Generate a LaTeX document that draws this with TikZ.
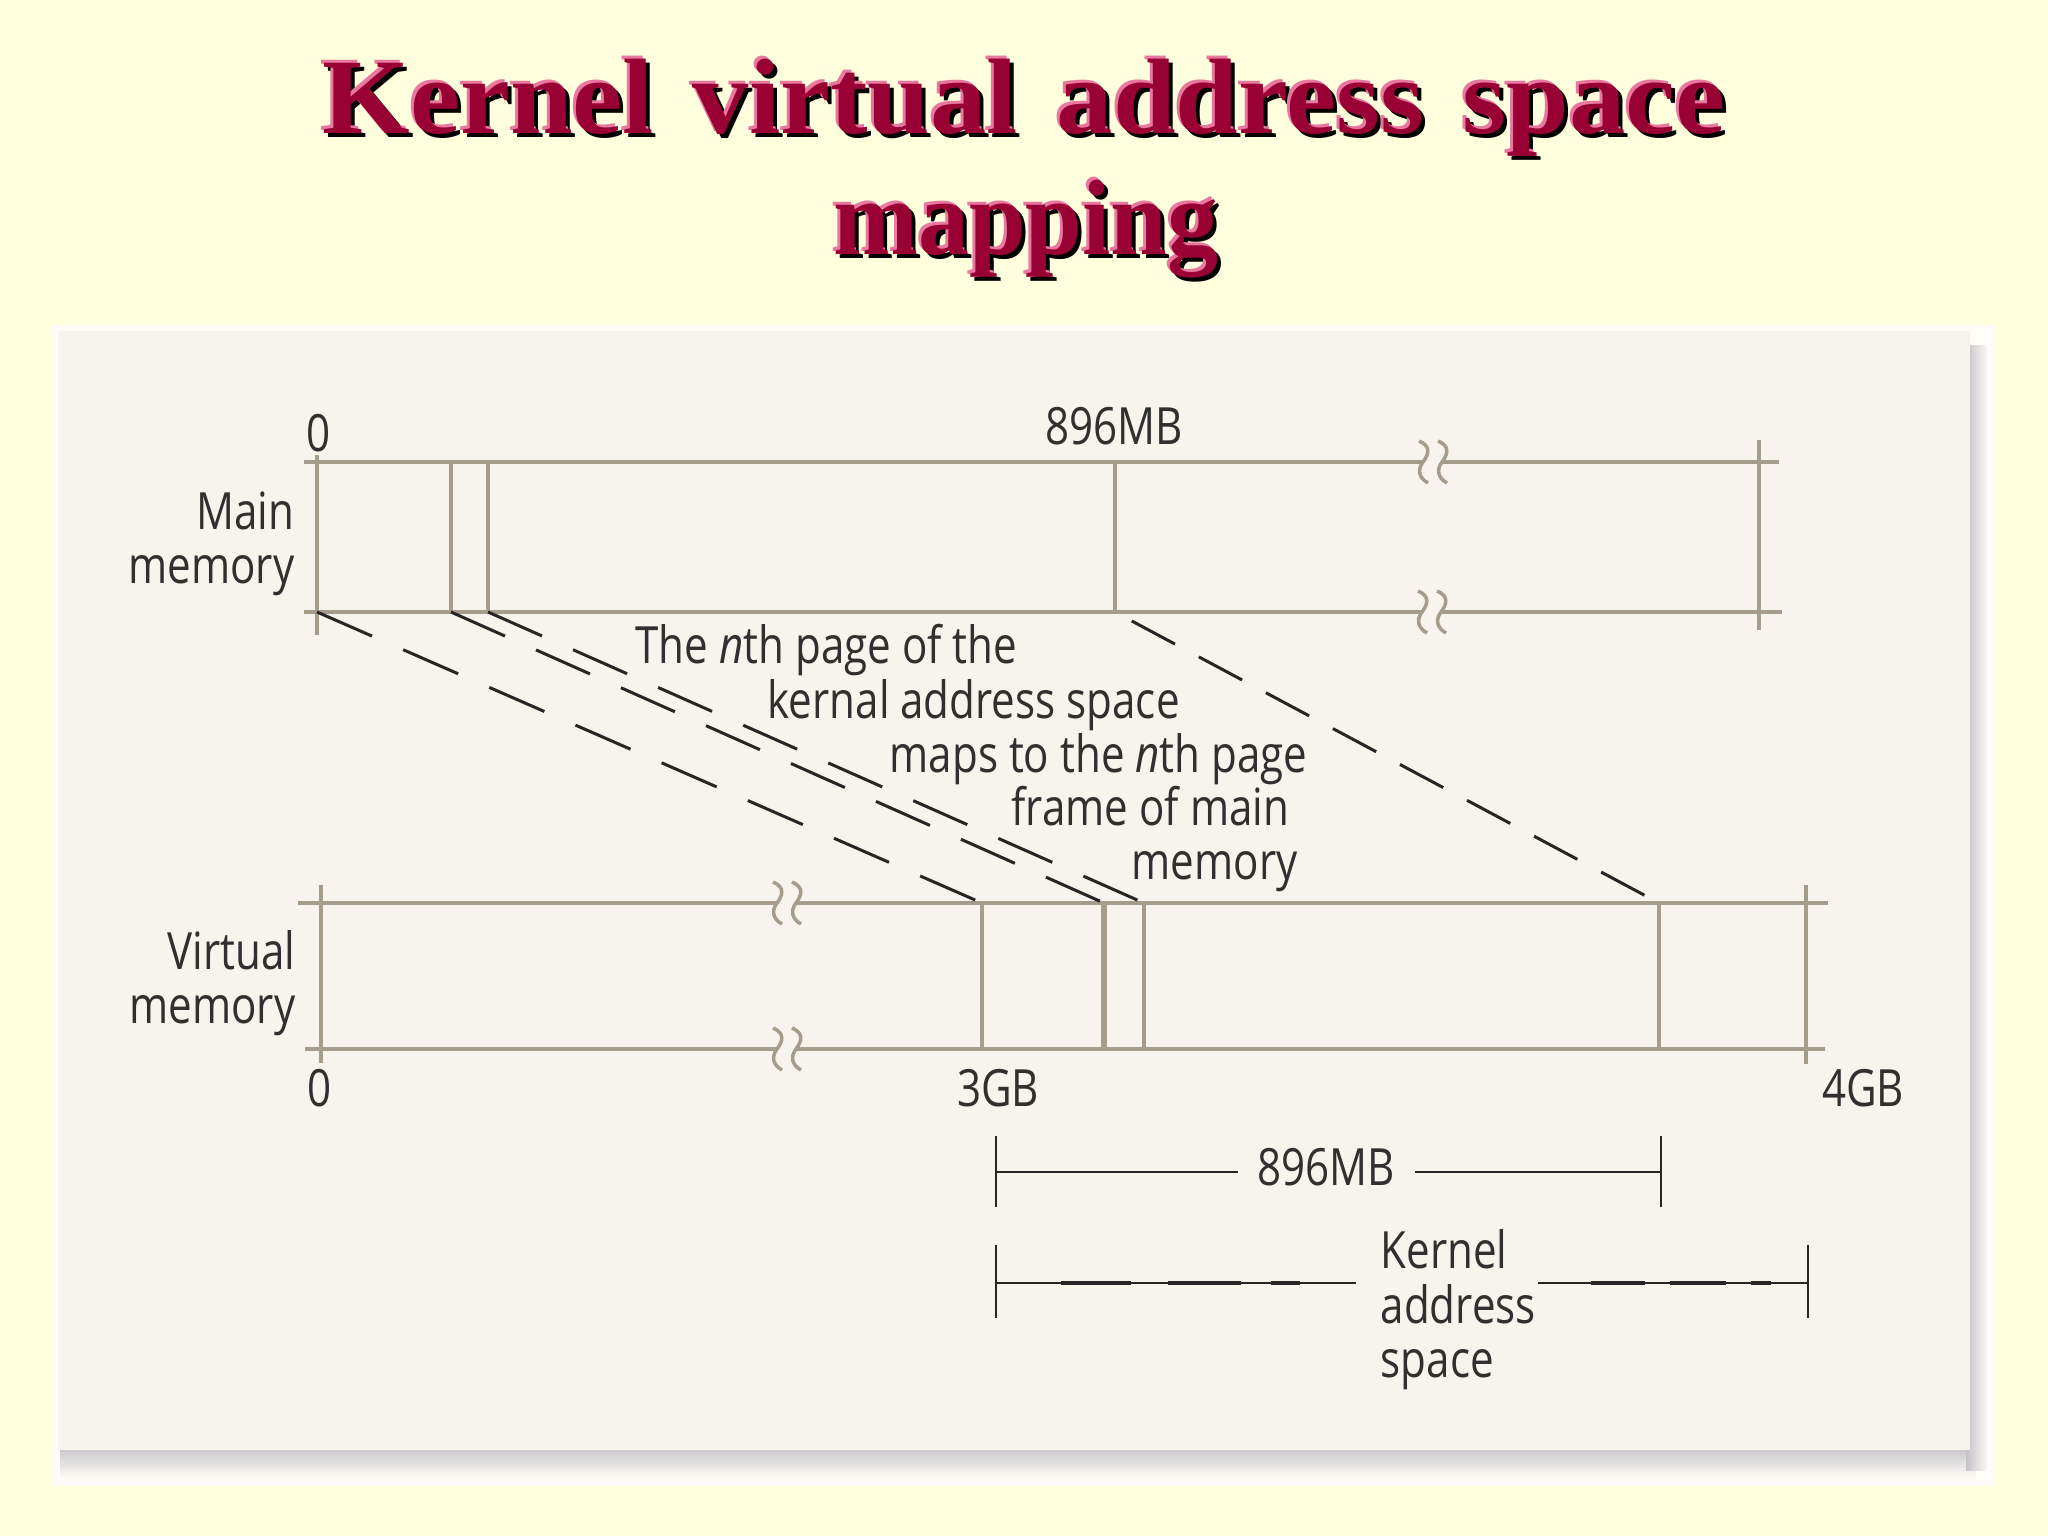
\documentclass[tikz,border=0pt]{standalone}
\usepackage{fontspec}
\newfontfamily\labfont{Open Sans}[FakeStretch=0.82]
\newfontfamily\ttlfont{Liberation Serif}[FakeStretch=1.05]
\newfontfamily\ttlfontb{Liberation Serif}[FakeStretch=0.95]
\definecolor{bgyellow}{RGB}{255,255,221}
\definecolor{paper}{RGB}{247,243,237}
\definecolor{framewhite}{RGB}{253,252,246}
\definecolor{boxc}{RGB}{166,156,140}
\definecolor{txt}{RGB}{48,48,48}
\definecolor{ttlred}{RGB}{153,0,51}
\definecolor{ttlpink}{RGB}{232,120,160}
\definecolor{shadowgray}{RGB}{196,194,200}
\tikzset{
  boxline/.style={draw=boxc, line width=0.035cm},
  thickdiv/.style={draw=boxc, line width=0.06cm},
  mapline/.style={draw=black!85, line width=0.03cm, dash pattern=on 0.6cm off 0.34cm},
  dimline/.style={draw=black!85, line width=0.022cm},
  dimthick/.style={draw=black!85, line width=0.04cm},
  lab/.style={font=\labfont\fontsize{14.6}{17}\selectfont, text=txt, inner sep=0pt},
  ttl/.style={font=\ttlfont\bfseries\fontsize{30.5}{34}\selectfont, inner sep=0pt, anchor=base},
  ttlb/.style={font=\ttlfontb\bfseries\fontsize{30.5}{34}\selectfont, inner sep=0pt, anchor=base},
}
\newcommand\wsp{\hspace{11pt}}
\newcommand\brkmark[2]{\draw[boxline] (#1-4,#2-21) .. controls (#1+8,#2-16) and (#1+6,#2-8) .. (#1,#2) .. controls (#1-6,#2+8) and (#1-4,#2+16) .. (#1+5,#2+21);}
\begin{document}
\begin{tikzpicture}[x=0.01cm,y=-0.01cm]
\useasboundingbox (0,0) rectangle (2048,1536);
% background and panel
\fill[bgyellow] (0,0) rectangle (2048,1536);
\fill[framewhite] (52,325) rectangle (1996,1486);
\shade[top color=shadowgray, bottom color=framewhite] (60,1446) rectangle (1976,1478);
\shade[left color=shadowgray, right color=framewhite] (1966,345) rectangle (1988,1470);
\fill[paper] (58,331) rectangle (1970,1450);
% title
\node[ttl, text=black] (t1s) at (1028,137) {Kernel\wsp virtual\wsp address\wsp space};
\node[ttl, text=ttlpink] (t1p) at (1021,130) {Kernel\wsp virtual\wsp address\wsp space};
\node[ttl, text=ttlred] (t1) at (1024,133) {Kernel\wsp virtual\wsp address\wsp space};
\node[ttlb, text=black] (t2s) at (1030,258) {mapping};
\node[ttlb, text=ttlpink] (t2p) at (1023,251) {mapping};
\node[ttlb, text=ttlred] (t2) at (1026,254) {mapping};
% main memory box
\coordinate (m0) at (317,612);
\coordinate (m1) at (451,612);
\coordinate (m2) at (488,612);
\coordinate (m3) at (1115,612);
\draw[boxline] (317,455) -- (317,635);
\draw[boxline] (1759,440) -- (1759,630);
\draw[boxline] (304,462) -- (1423,462) (1442,462) -- (1779,462);
\draw[boxline] (304,612) -- (1422,612) (1441,612) -- (1782,612);
\brkmark{1423}{462}
\brkmark{1442}{462}
\brkmark{1422}{612}
\brkmark{1441}{612}
\draw[boxline] (451,462) -- (m1);
\draw[boxline] (488,462) -- (m2);
\draw[boxline] (1115,462) -- (m3);
% virtual memory box
\coordinate (v0) at (982,903);
\coordinate (v1) at (1104,903);
\coordinate (v2) at (1144,903);
\coordinate (v3) at (1659,903);
\draw[boxline] (321,885) -- (321,1063);
\draw[boxline] (1806,885) -- (1806,1064);
\draw[boxline] (298,903) -- (777,903) (796,903) -- (1828,903);
\draw[boxline] (305,1049) -- (777,1049) (796,1049) -- (1825,1049);
\brkmark{777}{903}
\brkmark{796}{903}
\brkmark{777}{1049}
\brkmark{796}{1049}
\draw[boxline] (v0) -- (982,1049);
\draw[thickdiv] (v1) -- (1104,1049);
\draw[boxline] (v2) -- (1144,1049);
\draw[boxline] (v3) -- (1659,1049);
% mapping lines
\draw[mapline] (m0) -- (v0);
\draw[mapline, dash pattern=on 0.59cm off 0.34cm] (m1) -- (v1);
\draw[mapline, dash pattern=on 0.59cm off 0.34cm] (m2) -- (v2);
\draw[mapline, dash pattern=on 0.49cm off 0.27cm, dash phase=0.57cm] (m3) -- (v3);
% labels
\node[lab, anchor=base] (lm0) at (319,451) {0};
\node[lab, anchor=base] (lm896) at (1114,444) {896MB};
\node[lab, anchor=base east] (lmain) at (295,529) {Main};
\node[lab, anchor=base east] (lmem) at (295,583) {memory};
\node[lab, anchor=base east] (lvirt) at (296,969) {Virtual};
\node[lab, anchor=base east] (lvmem) at (296,1023) {memory};
\node[lab, anchor=base] (lv0) at (320,1106) {0};
\node[lab, anchor=base] (lv3) at (998,1106) {3GB};
\node[lab, anchor=base] (lv4) at (1863,1106) {4GB};
% annotation
\node[lab, anchor=base west] (a1) at (635,663) {The \textit{n}th page of the};
\node[lab, anchor=base west] (a2) at (767,718) {kernal address space};
\node[lab, anchor=base west] (a3) at (889,772) {maps to the \textit{n}th page};
\node[lab, anchor=base west] (a4) at (1011,825) {frame of main};
\node[lab, anchor=base west] (a5) at (1131,879) {memory};
% dimension 896MB
\coordinate (d1l) at (996,1172);
\coordinate (d1r) at (1661,1172);
\node[lab, anchor=base] (d1t) at (1326,1185) {896MB};
\draw[dimline] (996,1136) -- (996,1207);
\draw[dimline] (1661,1136) -- (1661,1207);
\draw[dimline] (d1l) -- (1238,1172) (1415,1172) -- (d1r);
% dimension kernel address space
\coordinate (d2l) at (996,1283);
\coordinate (d2r) at (1808,1283);
\draw[dimline] (996,1245) -- (996,1318);
\draw[dimline] (1808,1245) -- (1808,1318);
\draw[dimline] (d2l) -- (1356,1283) (1538,1283) -- (d2r);
\draw[dimthick] (1061,1283) -- (1131,1283) (1168,1283) -- (1241,1283) (1271,1283) -- (1300,1283)
  (1591,1283) -- (1645,1283) (1670,1283) -- (1726,1283) (1751,1283) -- (1771,1283);
\node[lab, anchor=base west] (k1) at (1380,1268) {Kernel};
\node[lab, anchor=base west] (k2) at (1380,1323) {address};
\node[lab, anchor=base west] (k3) at (1380,1377) {space};
\end{tikzpicture}
\end{document}
